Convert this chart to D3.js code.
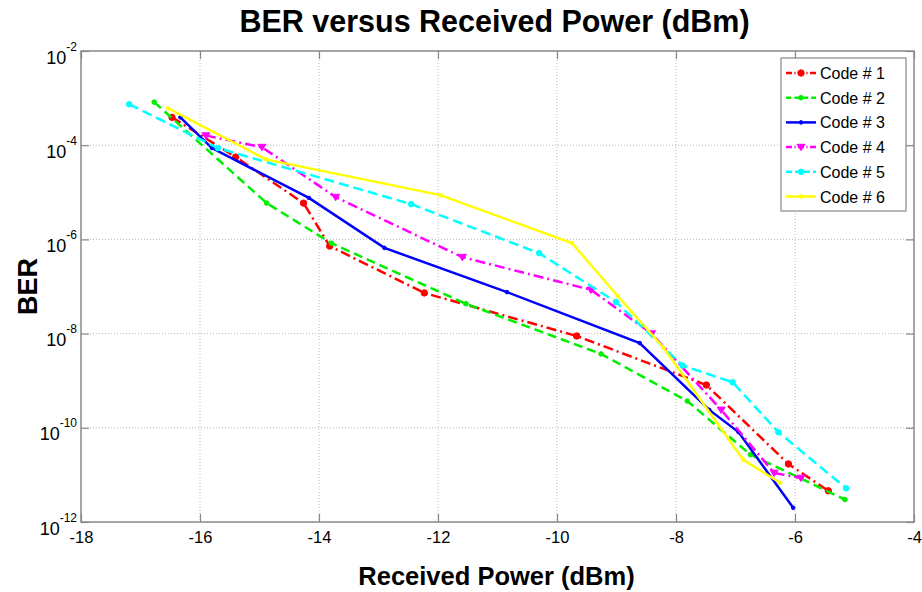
<!DOCTYPE html>
<html>
<head>
<meta charset="utf-8">
<script src="https://cdn.jsdelivr.net/npm/d3@7"></script>
<style>
  body { margin: 0; background: #fff; }
  svg { font-family: "Liberation Sans", Arial, sans-serif; }
</style>
</head>
<body>
<div id="chart"></div>
<script>
// data
const seriesNames = ["Code # 1", "Code # 2", "Code # 3", "Code # 4", "Code # 5", "Code # 6"];

const code1Power = [-16.47, -15.40, -14.26, -13.82, -12.23, -9.67, -7.49, -6.11, -5.44];
const code1Ber   = [3.9e-4, 5.6e-5, 5.9e-6, 7.2e-7, 7.3e-8, 8.9e-9, 8.1e-10, 1.7e-11, 4.6e-12];

const code2Power = [-16.77, -14.88, -13.79, -11.53, -9.26, -7.81, -6.75, -5.16];
const code2Ber   = [8.2e-4, 5.9e-6, 8.3e-7, 4.3e-8, 3.7e-9, 3.7e-10, 2.7e-11, 3.0e-12];

const code3Power = [-16.33, -15.80, -14.17, -12.90, -10.84, -8.61, -7.44, -6.95, -6.03];
const code3Ber   = [3.9e-4, 8.7e-5, 7.6e-6, 6.6e-7, 7.6e-8, 6.3e-9, 2.4e-10, 8.1e-11, 2.0e-12];

const code4Power = [-15.90, -14.96, -13.72, -11.59, -9.43, -8.41, -7.24, -6.35, -5.90];
const code4Ber   = [1.6e-4, 9.1e-5, 7.9e-6, 4.2e-7, 8.5e-8, 1.0e-8, 2.4e-10, 1.1e-11, 8.6e-12];

const code5Power = [-17.19, -15.70, -12.45, -10.30, -9.01, -7.89, -7.05, -6.28, -5.14];
const code5Ber   = [7.4e-4, 8.7e-5, 5.6e-6, 5.1e-7, 4.7e-8, 2.1e-9, 9.3e-10, 8.1e-11, 5.2e-12];

const code6Power = [-16.54, -14.89, -11.96, -9.75, -8.98, -8.21, -6.87, -6.25];
const code6Ber   = [6.1e-4, 5.0e-5, 8.7e-6, 8.4e-7, 6.3e-8, 5.0e-9, 2.1e-11, 6.8e-12];

const xTicks = [-18, -16, -14, -12, -10, -8, -6, -4];
const yTicks = [1e-2, 1e-4, 1e-6, 1e-8, 1e-10, 1e-12];

const W = 922, H = 592;
const margin = { top: 51, right: 8, bottom: 70, left: 81 };
const width = W - margin.left - margin.right;
const height = H - margin.top - margin.bottom;

const styles = [
  { color: "#ff0000", dash: "10,4,2,4", marker: "circle", r: 3.2 },
  { color: "#00ee00", dash: "9,5", marker: "circle", r: 2.3 },
  { color: "#0000ff", dash: null, marker: "circle", r: 1.8 },
  { color: "#ff00ff", dash: "10,4,2,4", marker: "triangle", r: 4 },
  { color: "#00ffff", dash: "10,5", marker: "circle", r: 2.8 },
  { color: "#ffff00", dash: null, marker: "circle", r: 1.8 }
];

const powers = [code1Power, code2Power, code3Power, code4Power, code5Power, code6Power];
const bers = [code1Ber, code2Ber, code3Ber, code4Ber, code5Ber, code6Ber];
const series = seriesNames.map((name, i) => ({
  name,
  style: styles[i],
  points: powers[i].map((p, j) => [p, bers[i][j]])
}));

const svg = d3.select("#chart").append("svg")
  .attr("width", W).attr("height", H);

const g = svg.append("g").attr("transform", `translate(${margin.left},${margin.top})`);

const x = d3.scaleLinear().domain([-18, -4]).range([0, width]);
const y = d3.scaleLog().domain([1e-12, 1e-2]).range([height, 0]);

// grid
g.append("g").selectAll("line").data(xTicks.slice(1, -1)).join("line")
  .attr("x1", d => x(d)).attr("x2", d => x(d))
  .attr("y1", 0).attr("y2", height)
  .attr("stroke", "#b8b8b8").attr("stroke-dasharray", "1,2");
g.append("g").selectAll("line").data(yTicks.slice(1, -1)).join("line")
  .attr("y1", d => y(d)).attr("y2", d => y(d))
  .attr("x1", 0).attr("x2", width)
  .attr("stroke", "#b8b8b8").attr("stroke-dasharray", "1,2");

// axes
const axisColor = "#888";
const gx = g.append("g").attr("transform", `translate(0,${height})`)
  .call(d3.axisBottom(x).tickValues(xTicks).tickSize(-8).tickPadding(9).tickFormat(d => String(d)));
const gxTop = g.append("g")
  .call(d3.axisTop(x).tickValues(xTicks).tickSize(-8).tickFormat(""));
const gy = g.append("g")
  .call(d3.axisLeft(y).tickValues(yTicks).tickSize(-8).tickPadding(6).tickFormat(""));
const gyRight = g.append("g").attr("transform", `translate(${width},0)`)
  .call(d3.axisRight(y).tickValues(yTicks).tickSize(-8).tickFormat(""));

[gx, gxTop, gy, gyRight].forEach(a => {
  a.select(".domain").remove();
  a.selectAll(".tick line").attr("stroke", axisColor).attr("stroke-width", 1.2);
});

gx.selectAll(".tick text")
  .attr("font-size", 16.5).attr("fill", "#000")
  .attr("font-family", "Liberation Sans, Arial, sans-serif");

// y labels as 10 with superscript exponent
gy.selectAll(".tick").each(function (d) {
  const t = d3.select(this).append("text")
    .attr("x", -4).attr("y", 12)
    .attr("text-anchor", "end")
    .attr("fill", "#000")
    .attr("font-size", 18);
  t.append("tspan").text("10");
  t.append("tspan").attr("dy", -13).attr("font-size", 12)
    .text(String(Math.round(Math.log10(d))));
});

g.append("rect")
  .attr("width", width).attr("height", height)
  .attr("fill", "none").attr("stroke", axisColor).attr("stroke-width", 1.5);

// lines
const line = d3.line().x(d => x(d[0])).y(d => y(d[1]));

function drawMarker(sel, s, cx, cy) {
  if (s.marker === "triangle") {
    const r = s.r;
    sel.append("path")
      .attr("d", `M${cx - r},${cy - r * 0.7}L${cx + r},${cy - r * 0.7}L${cx},${cy + r * 0.9}Z`)
      .attr("fill", s.color).attr("stroke", s.color);
  } else {
    sel.append("circle").attr("cx", cx).attr("cy", cy).attr("r", s.r)
      .attr("fill", s.color).attr("stroke", s.color);
  }
}

series.forEach(sr => {
  const sg = g.append("g");
  sg.append("path").datum(sr.points)
    .attr("d", line)
    .attr("fill", "none")
    .attr("stroke", sr.style.color)
    .attr("stroke-width", 2.5)
    .attr("stroke-dasharray", sr.style.dash);
  sr.points.forEach(p => drawMarker(sg, sr.style, x(p[0]), y(p[1])));
});

// legend
const lg = svg.append("g").attr("transform", "translate(781,58)");
lg.append("rect").attr("width", 125).attr("height", 153)
  .attr("fill", "#fff").attr("stroke", axisColor).attr("stroke-width", 1.2);
series.forEach((sr, i) => {
  const cy = 15 + i * 24.7;
  lg.append("line")
    .attr("x1", 5).attr("x2", 35).attr("y1", cy).attr("y2", cy)
    .attr("stroke", sr.style.color).attr("stroke-width", 2.5)
    .attr("stroke-dasharray", sr.style.dash ? sr.style.dash.split(",").map(v => v * 0.6).join(",") : null);
  drawMarker(lg, sr.style, 20, cy);
  lg.append("text").attr("x", 39).attr("y", cy + 6)
    .attr("font-size", 16).attr("fill", "#000").text(sr.name);
});

// titles
svg.append("text")
  .attr("x", margin.left + width / 2 - 3).attr("y", 32)
  .attr("text-anchor", "middle").attr("font-weight", "bold").attr("font-size", 30.5)
  .text("BER versus Received Power (dBm)");

svg.append("text")
  .attr("x", margin.left + width / 2 - 1).attr("y", 585)
  .attr("text-anchor", "middle").attr("font-weight", "bold").attr("font-size", 25.5)
  .text("Received Power (dBm)");

svg.append("text")
  .attr("transform", `translate(37,${margin.top + height / 2}) rotate(-90)`)
  .attr("text-anchor", "middle").attr("font-weight", "bold").attr("font-size", 27)
  .text("BER");
</script>
</body>
</html>
